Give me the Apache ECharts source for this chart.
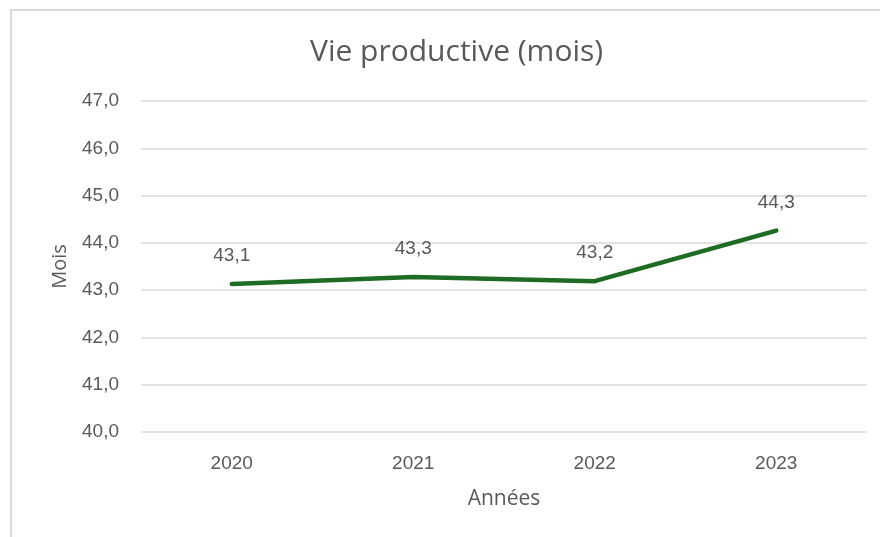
<!DOCTYPE html>
<html>
<head>
<meta charset="utf-8">
<script src="https://cdn.jsdelivr.net/npm/echarts@6/dist/echarts.min.js"></script>
<style>
  html, body { margin: 0; padding: 0; background: #fff; overflow: hidden; }
  #frame { position: absolute; left: 10px; top: 9px; width: 900px; height: 600px; border: 2px solid #d9d9d9; }
  #chart { position: absolute; left: 0; top: 0; width: 880px; height: 537px; }
</style>
</head>
<body>
<div id="frame"></div>
<div id="chart"></div>
<script>
// données
const annees = ["2020", "2021", "2022", "2023"];
const vieProductive = [43.13, 43.28, 43.19, 44.26];

const fmt = (v) => v.toFixed(1).replace(".", ",");

const chart = echarts.init(document.getElementById("chart"));

const options = {
  animation: false,
  title: {
    text: "Vie productive (mois)",
    left: 305,
    top: 32,
    textStyle: {
      fontFamily: "Open Sans",
      fontSize: 30,
      fontWeight: "normal",
      color: "#595959",
    },
  },
  grid: {
    left: 141,
    right: 13,
    top: 101,
    bottom: 105,
  },
  xAxis: {
    type: "category",
    data: annees,
    name: "Années",
    nameLocation: "middle",
    nameGap: 57,
    nameTextStyle: { fontFamily: "Open Sans", fontSize: 21, color: "#595959" },
    axisLine: { show: false },
    axisTick: { show: false },
    axisLabel: { margin: 22, fontFamily: "Liberation Sans", fontSize: 19, color: "#595959" },
  },
  yAxis: {
    type: "value",
    min: 40,
    max: 47,
    interval: 1,
    name: "Mois",
    nameLocation: "middle",
    nameGap: 71,
    nameTextStyle: { fontFamily: "Open Sans", fontSize: 20, color: "#595959" },
    axisLabel: {
      margin: 22,
      fontFamily: "Liberation Sans",
      fontSize: 19,
      color: "#595959",
      formatter: (v) => fmt(v),
    },
    splitLine: { lineStyle: { color: "#d9d9d9", width: 1.5 } },
  },
  series: [
    {
      type: "line",
      data: vieProductive,
      symbol: "circle",
      symbolSize: 1,
      itemStyle: { color: "#1e6b23" },
      lineStyle: { color: "#1e6b23", width: 4.5, cap: "round", join: "round" },
      label: {
        show: true,
        position: "top",
        distance: 18,
        fontFamily: "Liberation Sans",
        fontSize: 19,
        color: "#595959",
        formatter: (p) => fmt(p.value),
      },
    },
  ],
};

chart.setOption(options);
</script>
</body>
</html>
